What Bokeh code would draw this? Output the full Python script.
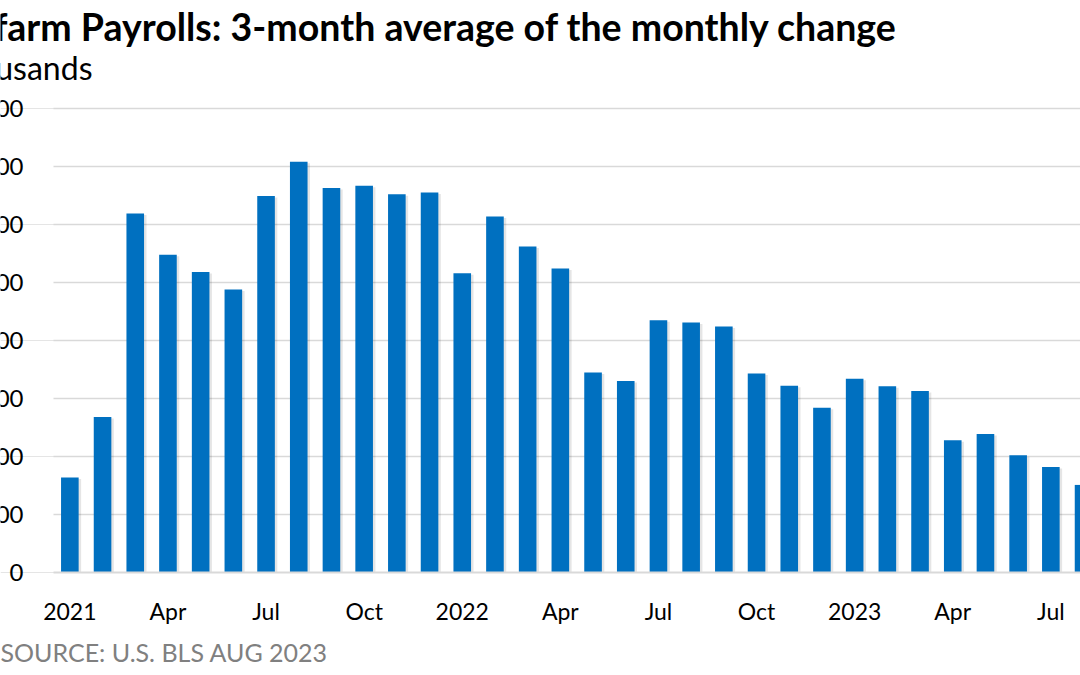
from bokeh.plotting import figure
from bokeh.models import Range1d, FixedTicker, Label, ColumnDataSource, Title
from bokeh.embed import file_html
from bokeh.resources import INLINE

# ---------------- data ----------------
months = ["2021-01", "2021-02", "2021-03", "2021-04", "2021-05", "2021-06",
          "2021-07", "2021-08", "2021-09", "2021-10", "2021-11", "2021-12",
          "2022-01", "2022-02", "2022-03", "2022-04", "2022-05", "2022-06",
          "2022-07", "2022-08", "2022-09", "2022-10", "2022-11", "2022-12",
          "2023-01", "2023-02", "2023-03", "2023-04", "2023-05", "2023-06",
          "2023-07", "2023-08"]
payroll_change_3m_avg = [164, 268, 619, 548, 518, 488, 649, 708, 663, 667, 652, 655,
                         516, 614, 562, 524, 345, 330, 435, 431, 424, 343, 322, 284,
                         334, 321, 313, 228, 239, 202, 182, 151]
x_tick_positions = [0, 3, 6, 9, 12, 15, 18, 21, 24, 27, 30]
x_tick_labels = ["2021", "Apr", "Jul", "Oct", "2022", "Apr", "Jul", "Oct",
                 "2023", "Apr", "Jul"]
y_ticks = [0, 100, 200, 300, 400, 500, 600, 700, 800]
y_tick_labels = ["0", "100", "200", "300", "400", "500", "600", "700", "800"]
title_text = "Nonfarm Payrolls: 3-month average of the monthly change"
unit_text = "Thousands"
source_text = "SOURCE: U.S. BLS AUG 2023"

# ---------------- layout ----------------
W, H = 1080, 675
PLOT_LEFT = 53          # pixel where the category axis starts
ZERO_Y = 572            # pixel of the zero line
FRAME_BOTTOM = 584
PX_PER_MONTH = 32.7
PX_PER_UNIT = 0.58
x_start = -0.5 - PLOT_LEFT / PX_PER_MONTH
x_end = x_start + W / PX_PER_MONTH
y_start = -(FRAME_BOTTOM - ZERO_Y) / PX_PER_UNIT
y_end = ZERO_Y / PX_PER_UNIT
BAR_W = 17.6 / PX_PER_MONTH
FONT = "Lato"

n = len(payroll_change_3m_avg)
src = ColumnDataSource(data=dict(
    x=list(range(n)),
    xs=[i + 1.5 / PX_PER_MONTH for i in range(n)],
    top=payroll_change_3m_avg,
    tops=[v - 1.5 / PX_PER_UNIT for v in payroll_change_3m_avg],
    month=months,
))
grid_src = ColumnDataSource(data=dict(
    x0=[-0.5] * (len(y_ticks) - 1), x1=[x_end] * (len(y_ticks) - 1), y=y_ticks[1:]))
base_src = ColumnDataSource(data=dict(x0=[-0.5], x1=[x_end], y=[y_ticks[0]]))

p = figure(width=W, height=H, output_backend="svg", toolbar_location=None,
           x_range=Range1d(x_start, x_end), y_range=Range1d(y_start, y_end),
           y_axis_location=None,
           min_border_left=0, min_border_right=0,
           min_border_top=0, min_border_bottom=H - FRAME_BOTTOM)
p.outline_line_color = None
p.background_fill_color = "white"
p.border_fill_color = "white"
p.xgrid.visible = False

# horizontal gridlines
p.segment(x0="x0", y0="y", x1="x1", y1="y", source=grid_src,
          line_color="#d9d9d9", line_width=1.6)

# soft shadow + bars
p.vbar(x="xs", top="tops", bottom=0, width=BAR_W + 0.06, source=src,
       fill_color="#000000", fill_alpha=0.10, line_color=None)
p.vbar(x="x", top="top", bottom=0, width=BAR_W, source=src,
       fill_color="#0070C0", line_color=None)

# zero line
p.segment(x0="x0", y0="y", x1="x1", y1="y", source=base_src,
          line_color="#d9d9d9", line_width=2)

ax = p.xaxis[0]
ax.ticker = FixedTicker(ticks=x_tick_positions)
ax.major_label_overrides = {pos: lab for pos, lab in zip(x_tick_positions, x_tick_labels)}
ax.axis_line_color = None
ax.major_tick_line_color = None
ax.minor_tick_line_color = None
ax.major_tick_out = 0
ax.major_tick_in = 0
ax.major_label_standoff = 12
ax.major_label_text_font = FONT
ax.major_label_text_font_size = "23px"
ax.major_label_text_color = "#000000"

# y tick labels (the picture's left edge crops them)
for v, lab in zip(y_ticks, y_tick_labels):
    p.add_layout(Label(x=23, y=v, x_units="canvas", y_units="data", text=lab,
                       text_align="right", text_baseline="middle",
                       text_font=FONT, text_font_size="24px", text_color="#000000"))

p.add_layout(Label(x=897, y=26, x_units="canvas", y_units="canvas", text=title_text,
                   text_align="right", text_baseline="alphabetic",
                   text_font=FONT, text_font_size="37.5px", text_font_style="bold",
                   text_color="#000000"))
p.add_layout(Label(x=92, y=67, x_units="canvas", y_units="canvas", text=unit_text,
                   text_align="right", text_baseline="alphabetic",
                   text_font=FONT, text_font_size="32px", text_color="#000000"))

p.add_layout(Title(text=source_text, align="left", offset=0, standoff=14,
                   text_font=FONT, text_font_size="25px", text_font_style="normal",
                   text_color="#808080"), "below")

open("out.html", "w").write(file_html(p, INLINE))
